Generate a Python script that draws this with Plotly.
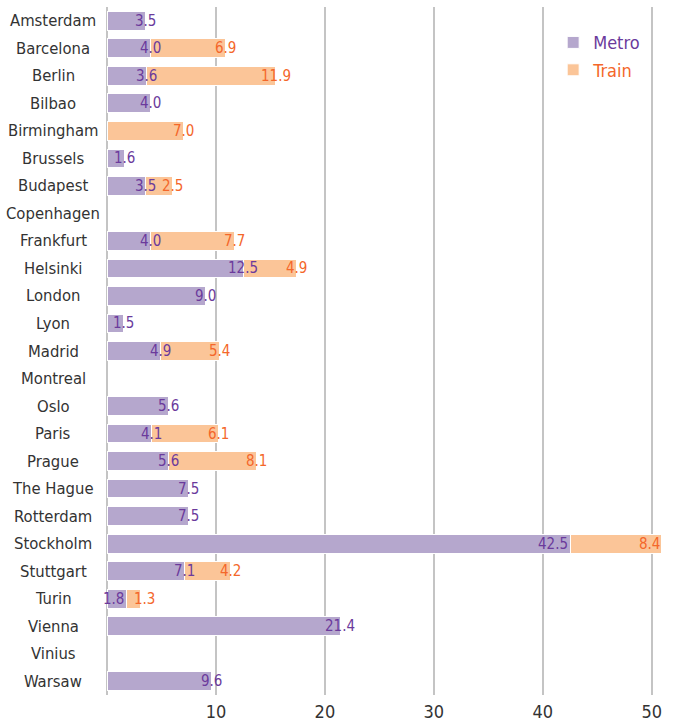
import plotly.graph_objects as go

cities = ["Amsterdam", "Barcelona", "Berlin", "Bilbao", "Birmingham", "Brussels",
          "Budapest", "Copenhagen", "Frankfurt", "Helsinki", "London", "Lyon",
          "Madrid", "Montreal", "Oslo", "Paris", "Prague", "The Hague",
          "Rotterdam", "Stockholm", "Stuttgart", "Turin", "Vienna", "Vinius", "Warsaw"]
metro = [3.5, 4.0, 3.6, 4.0, None, 1.6, 3.5, None, 4.0, 12.5, 9.0, 1.5, 4.9, None,
         5.6, 4.1, 5.6, 7.5, 7.5, 42.5, 7.1, 1.8, 21.4, None, 9.6]
train = [None, 6.9, 11.9, None, 7.0, None, 2.5, None, 7.7, 4.9, None, None, 5.4, None,
         None, 6.1, 8.1, None, None, 8.4, 4.2, 1.3, None, None, None]
x_ticks = [10, 20, 30, 40, 50]

METRO_BAR = "#b5a7cd"
TRAIN_BAR = "#fbc598"
METRO_TXT = "#6b3a9c"
TRAIN_TXT = "#f4672a"
LABEL_TXT = "#333333"
FONT = "DejaVu Sans Condensed, Liberation Sans Narrow, Roboto Condensed, Roboto, sans-serif"

fig = go.Figure()
fig.add_trace(go.Bar(
    y=cities, x=metro, orientation="h", legendgroup="metro",
    name=f"<span style='color:{METRO_TXT}'>Metro</span>",
    marker=dict(color=METRO_BAR, line=dict(color="white", width=1)), width=0.68,
))
fig.add_trace(go.Bar(
    y=cities, x=train, orientation="h", legendgroup="train",
    name=f"<span style='color:{TRAIN_TXT}'>Train</span>",
    marker=dict(color=TRAIN_BAR, line=dict(color="white", width=1)), width=0.68,
))

annotations = []
# City names, centred in the left margin
for c in cities:
    annotations.append(dict(
        x=-0.094, xref="paper", y=c, yref="y", text=c, showarrow=False,
        xanchor="center", font=dict(family=FONT, size=16.5, color=LABEL_TXT)))

# Value labels at the end of each segment
for c, m, t in zip(cities, metro, train):
    base = m or 0
    total = base + (t or 0)
    crowded_end = total > 45          # long bar: keep labels inside the plot
    short_pair = m is not None and t is not None and total < 5
    if m is not None:
        annotations.append(dict(
            x=m, y=c, text=f"{m:.1f}", showarrow=False,
            xanchor="right" if (crowded_end or short_pair) else "center",
            xshift=-1 if short_pair else 0,
            font=dict(family=FONT, size=15, color=METRO_TXT)))
    if t is not None:
        annotations.append(dict(
            x=base + t, y=c, text=f"{t:.1f}", showarrow=False,
            xanchor="right" if crowded_end else "center",
            xshift=4 if short_pair else 0,
            font=dict(family=FONT, size=15, color=TRAIN_TXT)))

fig.update_layout(
    width=679, height=728, barmode="stack",
    margin=dict(l=107, r=0, t=7, b=33),
    plot_bgcolor="white", paper_bgcolor="white",
    font=dict(family=FONT, color=LABEL_TXT),
    annotations=annotations,
    legend=dict(x=0.78, y=0.975, xanchor="left", yanchor="top",
                font=dict(family=FONT, size=18), traceorder="grouped",
                bgcolor="rgba(0,0,0,0)", tracegroupgap=1),
    xaxis=dict(range=[0, 52.5], tickvals=x_ticks, showgrid=True,
               gridcolor="#c4c4c4", gridwidth=2, zeroline=True,
               zerolinecolor="#c4c4c4", zerolinewidth=2,
               tickfont=dict(family=FONT, size=18, color=LABEL_TXT),
               ticks="", ticklabelstandoff=4, fixedrange=True),
    yaxis=dict(categoryorder="array", categoryarray=cities, autorange="reversed",
               showticklabels=False, ticks="", showgrid=False),
)

fig.write_html("out.html")
